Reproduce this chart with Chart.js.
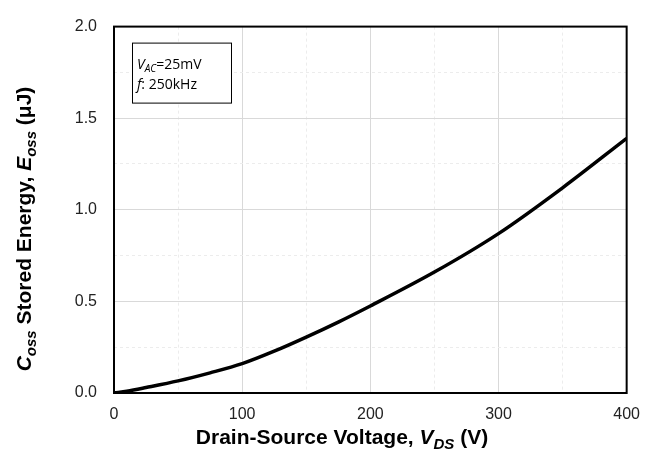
<!DOCTYPE html>
<html>
<head>
<meta charset="utf-8">
<script src="https://cdn.jsdelivr.net/npm/chart.js@4"></script>
<style>
  html, body { margin: 0; padding: 0; background: #fff; }
  #wrap { width: 652px; height: 451px; }
</style>
</head>
<body>
<div id="wrap"><canvas id="eossChart"></canvas></div>
<script>
// Eoss vs Vds
const vds = [0, 10, 25, 50, 75, 100, 125, 150, 175, 200, 250, 300, 350, 400];
const eoss = [0, 0.01, 0.03, 0.066, 0.11, 0.16, 0.228, 0.305, 0.387, 0.475, 0.66, 0.87, 1.12, 1.39];
const xTicks = [0, 100, 200, 300, 400];
const yTicks = [0.0, 0.5, 1.0, 1.5, 2.0];
const noteLines = [
    [{ t: 'V', i: true }, { t: 'AC', i: true, sub: true }, { t: '=25mV' }],
    [{ t: 'f', i: true }, { t: ': 250kHz' }]
];
const xTitle = [{ t: 'Drain-Source Voltage, ' }, { t: 'V', i: true }, { t: 'DS', i: true, sub: true }, { t: ' (V)' }];
const yTitle = [{ t: 'C', i: true }, { t: 'oss', i: true, sub: true }, { t: ' Stored Energy, ' },
    { t: 'E', i: true }, { t: 'oss', i: true, sub: true }, { t: ' (\u03bcJ)' }];

const points = vds.map((v, k) => ({ x: v, y: eoss[k] }));

// draws a list of text pieces with italics / subscripts
function richText(ctx, segs, x, y, size, bold, family, align) {
    const fontFor = s => (s.i ? 'italic ' : '') + (bold ? 'bold ' : '') +
        (s.sub ? Math.round(size * 0.7) : size) + 'px ' + family;
    let total = 0;
    segs.forEach(s => { ctx.font = fontFor(s); total += ctx.measureText(s.t).width; });
    let cx = align === 'center' ? x - total / 2 : x;
    ctx.textAlign = 'left';
    ctx.textBaseline = 'alphabetic';
    segs.forEach(s => {
        ctx.font = fontFor(s);
        ctx.fillText(s.t, cx, y + (s.sub ? size * 0.25 : 0));
        cx += ctx.measureText(s.t).width;
    });
}

const extras = {
    id: 'extras',
    afterDraw(chart) {
        const { ctx, chartArea: a } = chart;
        ctx.save();
        // frame
        ctx.strokeStyle = '#000';
        ctx.lineWidth = 2;
        ctx.strokeRect(a.left, a.top, a.right - a.left, a.bottom - a.top);
        // note box
        ctx.lineWidth = 1;
        ctx.fillStyle = '#fff';
        ctx.fillRect(a.left + 18.5, a.top + 16.5, 99, 60);
        ctx.strokeRect(a.left + 18.5, a.top + 16.5, 99, 60);
        ctx.fillStyle = '#000';
        richText(ctx, noteLines[0], a.left + 23, a.top + 42, 14, false, '"Open Sans", sans-serif', 'left');
        richText(ctx, noteLines[1], a.left + 23, a.top + 62, 14, false, '"Open Sans", sans-serif', 'left');
        // axis titles
        richText(ctx, xTitle, 342, 444, 21, true, '"Liberation Sans", Arial, sans-serif', 'center');
        ctx.translate(31, 229);
        ctx.rotate(-Math.PI / 2);
        richText(ctx, yTitle, 0, 0, 21, true, '"Liberation Sans", Arial, sans-serif', 'center');
        ctx.restore();
    }
};

const isMajorX = v => xTicks.includes(v);
const isMajorY = v => yTicks.some(t => Math.abs(t - v) < 1e-6);

new Chart(document.getElementById('eossChart').getContext('2d'), {
    type: 'line',
    data: {
        datasets: [{
            data: points,
            borderColor: '#000',
            borderWidth: 3.5,
            pointRadius: 0,
            cubicInterpolationMode: 'monotone',
            fill: false
        }]
    },
    options: {
        responsive: true,
        maintainAspectRatio: false,
        animation: false,
        layout: { padding: { top: 13, right: 22, left: 0, bottom: 0 } },
        plugins: { legend: { display: false }, tooltip: { enabled: false } },
        scales: {
            x: {
                type: 'linear',
                min: 0,
                max: 400,
                afterFit(scale) { scale.height = 58; },
                ticks: {
                    stepSize: 50,
                    padding: 12,
                    maxRotation: 0,
                    autoSkip: false,
                    color: '#222',
                    font: { family: '"Liberation Sans", Arial, sans-serif', size: 16 },
                    callback: v => isMajorX(v) ? String(v) : ''
                },
                grid: {
                    drawTicks: false,
                    color: c => isMajorX(c.tick.value) ? '#d9d9d9' : '#ececec',
                    lineWidth: 1
                },
                border: { display: false, dash: c => (c.tick && !isMajorX(c.tick.value)) ? [3, 3] : [] }
            },
            y: {
                type: 'linear',
                min: 0,
                max: 2,
                afterFit(scale) { scale.width = 114; },
                ticks: {
                    stepSize: 0.25,
                    padding: 17,
                    autoSkip: false,
                    color: '#222',
                    font: { family: '"Liberation Sans", Arial, sans-serif', size: 16 },
                    callback: v => isMajorY(v) ? v.toFixed(1) : ''
                },
                grid: {
                    drawTicks: false,
                    color: c => isMajorY(c.tick.value) ? '#d9d9d9' : '#ececec',
                    lineWidth: 1
                },
                border: { display: false, dash: c => (c.tick && !isMajorY(c.tick.value)) ? [3, 3] : [] }
            }
        }
    },
    plugins: [extras]
});
</script>
</body>
</html>
